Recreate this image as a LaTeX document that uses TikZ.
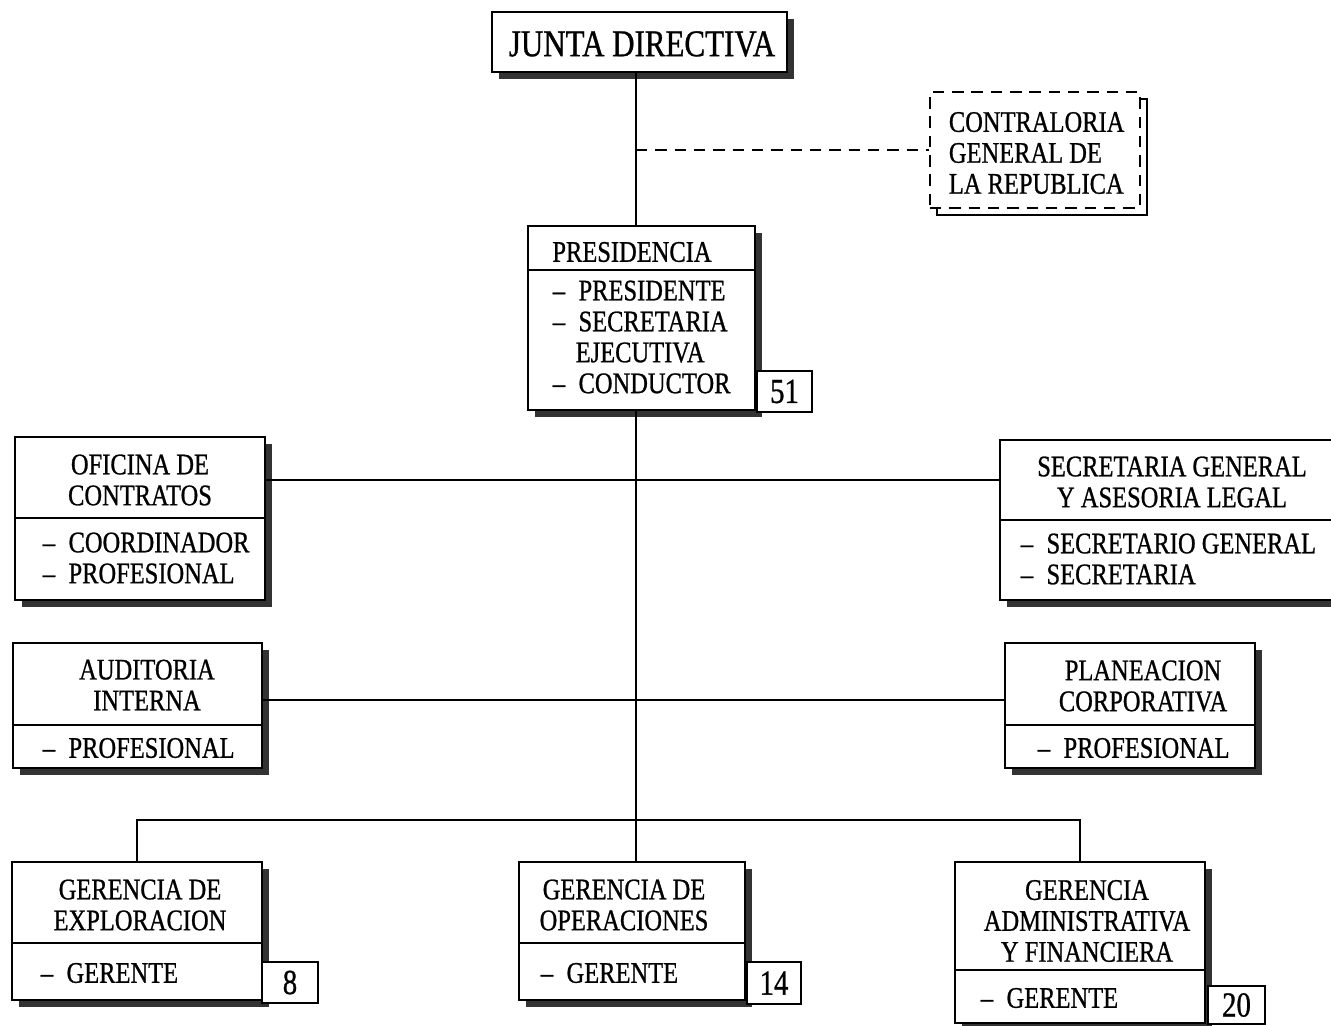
\documentclass[tikz,border=0pt]{standalone}
\usepackage{fontspec}
\setmainfont{Liberation Serif}[FakeStretch=0.82, FakeBold=0.8]
\usetikzlibrary{fit,shadows}

\begin{document}
\begin{tikzpicture}[x=0.02cm, y=-0.02cm, line width=1pt,
    font=\fontsize{17}{17.6}\selectfont,
    unit/.style={draw, fill=white, inner sep=0pt,
      drop shadow={shadow xshift=0.14cm, shadow yshift=-0.14cm,
        fill=black!80, opacity=1}},
    count/.style={draw, fill=white, inner sep=0pt},
    num/.style={font=\fontsize{20}{21}\selectfont},
    title/.style={align=center, inner sep=0pt},
    items/.style={align=left, anchor=west, inner sep=0pt},
    broken/.style={dash pattern=on 6.5pt off 4.5pt}]
  \useasboundingbox (0,0) rectangle (1331,1025);
  \clip (0,0) rectangle (1331,1025);
  % helper rows for the connectors
  \coordinate (trunk) at (636,0);
  \coordinate (row1) at (0,480);
  \coordinate (row2) at (0,700);
  \coordinate (row3) at (0,820);

  % top
  \node[unit, fit={(492,12) (787,72)}] (junta) {};
  \node[title, font=\fontsize{21.5}{22}\selectfont] at (642,44) {JUNTA DIRECTIVA};

  \draw[fill=white] (937,99) rectangle (1147,215);
  \node[draw, broken, fill=white, inner sep=0pt, fit={(930,92) (1140,208)}] (contra) {};
  \node[items] at (948,153) {CONTRALORIA\\GENERAL DE\\LA REPUBLICA};

  % presidencia
  \node[unit, fit={(528,226) (755,410)}] (pres) {};
  \draw (pres.west |- 0,270) -- (pres.east |- 0,270);
  \node[title] at (632,252) {PRESIDENCIA};
  \node[items] at (552,337) {--\hspace{0.45em}PRESIDENTE\\--\hspace{0.45em}SECRETARIA\\\hspace*{13pt}EJECUTIVA\\--\hspace{0.45em}CONDUCTOR};
  \node[count, fit={(757,371) (812,412)}, label={[num]center:51}] (n51) {};

  % staff units
  \node[unit, fit={(15,437) (265,600)}] (ofi) {};
  \draw (ofi.west |- 0,518) -- (ofi.east |- 0,518);
  \node[title] at (140,480) {OFICINA DE\\CONTRATOS};
  \node[items] at (42,558) {--\hspace{0.45em}COORDINADOR\\--\hspace{0.45em}PROFESIONAL};

  \node[unit, fit={(1000,440) (1340,600)}] (sec) {};
  \draw (sec.west |- 0,520) -- (sec.east |- 0,520);
  \node[title] at (1172,482) {SECRETARIA GENERAL\\Y ASESORIA LEGAL};
  \node[items] at (1020,559) {--\hspace{0.45em}SECRETARIO GENERAL\\--\hspace{0.45em}SECRETARIA};

  \node[unit, fit={(13,643) (262,768)}] (aud) {};
  \draw (aud.west |- 0,725) -- (aud.east |- 0,725);
  \node[title] at (147,685) {AUDITORIA\\INTERNA};
  \node[items] at (42,748) {--\hspace{0.45em}PROFESIONAL};

  \node[unit, fit={(1005,643) (1255,768)}] (plan) {};
  \draw (plan.west |- 0,725) -- (plan.east |- 0,725);
  \node[title] at (1143,686) {PLANEACION\\CORPORATIVA};
  \node[items] at (1037,748) {--\hspace{0.45em}PROFESIONAL};

  % gerencias
  \node[unit, fit={(12,862) (262,1000)}] (expl) {};
  \draw (expl.west |- 0,943) -- (expl.east |- 0,943);
  \node[title] at (140,905) {GERENCIA DE\\EXPLORACION};
  \node[items] at (40,973) {--\hspace{0.45em}GERENTE};
  \node[count, fit={(262,962) (318,1003)}, label={[num]center:8}] (n8) {};

  \node[unit, fit={(519,862) (745,1000)}] (ope) {};
  \draw (ope.west |- 0,943) -- (ope.east |- 0,943);
  \node[title] at (624,905) {GERENCIA DE\\OPERACIONES};
  \node[items] at (540,973) {--\hspace{0.45em}GERENTE};
  \node[count, fit={(747,962) (801,1004)}, label={[num]center:14}] (n14) {};

  \node[unit, fit={(955,862) (1205,1023)}] (adm) {};
  \draw (adm.west |- 0,970) -- (adm.east |- 0,970);
  \node[title] at (1087,921) {GERENCIA\\ADMINISTRATIVA\\Y FINANCIERA};
  \node[items] at (980,998) {--\hspace{0.45em}GERENTE};
  \node[count, fit={(1208,986) (1265,1024)}, label={[num]center:20}] (n20) {};

  % connectors
  \draw (junta.south -| trunk) -- (pres.north -| trunk);
  \draw[broken] (contra.west -| trunk) -- (contra.west);
  \draw (pres.south -| trunk) -- (ope.north -| trunk);
  \draw (ofi.east |- row1) -- (sec.west |- row1);
  \draw (aud.east |- row2) -- (plan.west |- row2);
  \draw (expl.north) -- (expl.north |- row3) -- (adm.north |- row3) -- (adm.north);
\end{tikzpicture}
\end{document}
